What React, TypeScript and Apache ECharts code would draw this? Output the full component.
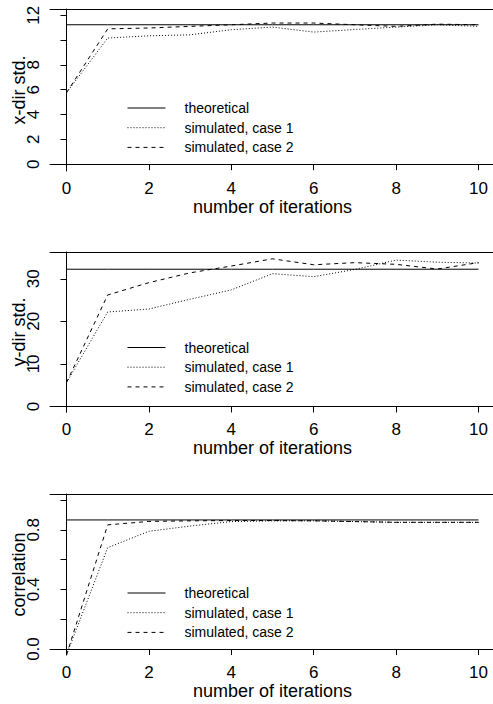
import React, { useEffect, useRef } from "react";
import * as echarts from "echarts";

const iterations = [0, 1, 2, 3, 4, 5, 6, 7, 8, 9, 10];

const xdirTheoretical = 11.23;
const xdirCase1 = [5.75, 10.16, 10.34, 10.42, 10.83, 11.04, 10.64, 10.85, 11.04, 11.23, 11.1];
const xdirCase2 = [5.75, 10.9, 10.97, 11.1, 11.23, 11.37, 11.37, 11.23, 11.1, 11.28, 11.23];

const ydirTheoretical = 32.25;
const ydirCase1 = [5.6, 22.2, 22.9, 25.2, 27.4, 31.2, 30.5, 32.2, 34.4, 33.9, 33.7];
const ydirCase2 = [5.6, 26.2, 29.1, 31.4, 33.0, 34.7, 33.3, 33.8, 33.4, 32.3, 33.8];

const corrTheoretical = 0.866;
const corrCase1 = [-0.04, 0.68, 0.79, 0.825, 0.855, 0.86, 0.86, 0.855, 0.85, 0.85, 0.85];
const corrCase2 = [-0.04, 0.833, 0.856, 0.86, 0.862, 0.862, 0.86, 0.855, 0.85, 0.85, 0.85];

const xTickValues = [0, 2, 4, 6, 8, 10];
const xdirTicks = [0, 2, 4, 6, 8, 10, 12];
const xdirLabels = [0, 2, 4, 6, 8, 12];
const ydirTicks = [0, 10, 20, 30];
const ydirLabels = [0, 10, 20, 30];
const corrTicks = [0, 0.2, 0.4, 0.6, 0.8, 1.0];
const corrLabels = [0, 0.4, 0.8];

const seriesNames = ["theoretical", "simulated, case 1", "simulated, case 2"];
const xAxisTitle = "number of iterations";
const yAxisTitles = ["x-dir std.", "y-dir std.", "correlation"];

const FONT = "'Liberation Sans', Arial, Helvetica, sans-serif";

export default function App() {
  const ref = useRef<HTMLDivElement>(null);

  useEffect(() => {
    if (!ref.current) return;
    const chart = echarts.init(ref.current, null, { renderer: "svg" });

    const panels = [
      { top: 9, height: 162, min: -0.55, max: 12.5, ticks: xdirTicks, labels: xdirLabels, fmt: (v: number) => String(v), theo: xdirTheoretical, c1: xdirCase1, c2: xdirCase2, legendTop: 101 },
      { top: 252, height: 160, min: -1.3, max: 36.3, ticks: ydirTicks, labels: ydirLabels, fmt: (v: number) => String(v), theo: ydirTheoretical, c1: ydirCase1, c2: ydirCase2, legendTop: 340.5 },
      { top: 494, height: 161, min: -0.04, max: 1.04, ticks: corrTicks, labels: corrLabels, fmt: (v: number) => v.toFixed(1), theo: corrTheoretical, c1: corrCase1, c2: corrCase2, legendTop: 586 },
    ];

    const grid: any[] = [];
    const xAxis: any[] = [];
    const yAxis: any[] = [];
    const series: any[] = [];
    const legend: any[] = [];
    const axisLine = { show: true, lineStyle: { color: "#000", width: 1 } };

    panels.forEach((p, i) => {
      grid.push({
        left: 50,
        width: 445,
        top: p.top,
        height: p.height,
        show: false,
        containLabel: false,
        outerBoundsMode: "none",
      });
      xAxis.push({
        type: "value",
        gridIndex: i,
        position: "bottom",
        min: -0.4,
        max: 10.4,
        name: xAxisTitle,
        nameLocation: "middle",
        nameGap: 26.5,
        nameMoveOverlap: false,
        nameTextStyle: { fontFamily: FONT, fontSize: 18, color: "#000" },
        axisLine,
        axisTick: { show: true, length: 6, customValues: xTickValues, lineStyle: { color: "#000", width: 1 } },
        axisLabel: { show: true, customValues: xTickValues, margin: 9, fontFamily: FONT, fontSize: 17, color: "#000" },
        splitLine: { show: false },
      });
      xAxis.push({
        type: "value",
        gridIndex: i,
        position: "top",
        min: -0.4,
        max: 10.4,
        axisLine,
        axisTick: { show: false },
        axisLabel: { show: false },
        splitLine: { show: false },
      });
      yAxis.push({
        type: "value",
        gridIndex: i,
        min: p.min,
        max: p.max,
        name: yAxisTitles[i],
        nameLocation: "middle",
        nameGap: 22,
        nameRotate: 90,
        nameMoveOverlap: false,
        nameTextStyle: { fontFamily: FONT, fontSize: 18, color: "#000" },
        axisLine,
        axisTick: { show: true, length: 6, customValues: p.ticks, lineStyle: { color: "#000", width: 1 } },
        axisLabel: { show: true, customValues: p.labels, rotate: 90, margin: 8, fontFamily: FONT, fontSize: 17, color: "#000", formatter: p.fmt },
        splitLine: { show: false },
      });
      const xi = i * 2;
      series.push(
        {
          type: "line",
          name: seriesNames[0],
          xAxisIndex: xi,
          yAxisIndex: i,
          data: iterations.map((it) => [it, p.theo]),
          symbol: "none",
          lineStyle: { color: "#000", width: 1, type: "solid" },
          itemStyle: { color: "#000" },
        },
        {
          type: "line",
          name: seriesNames[1],
          xAxisIndex: xi,
          yAxisIndex: i,
          data: iterations.map((it, k) => [it, p.c1[k]]),
          symbol: "none",
          lineStyle: { color: "#000", width: 1, type: [1, 2] },
          itemStyle: { color: "#000" },
        },
        {
          type: "line",
          name: seriesNames[2],
          xAxisIndex: xi,
          yAxisIndex: i,
          data: iterations.map((it, k) => [it, p.c2[k]]),
          symbol: "none",
          lineStyle: { color: "#000", width: 1, type: [4, 4] },
          itemStyle: { color: "#000" },
        }
      );
      legend.push({
        data: seriesNames,
        orient: "vertical",
        left: 127,
        top: p.legendTop,
        padding: 0,
        itemWidth: 38,
        itemHeight: 14,
        itemGap: 5.7,
        selectedMode: false,
        itemStyle: { opacity: 0, borderWidth: 0 },
        lineStyle: { width: 1 },
        textStyle: { fontFamily: FONT, fontSize: 14, color: "#000", padding: [0, 0, 0, 14] },
      });
    });

    chart.setOption({
      animation: false,
      backgroundColor: "#fff",
      grid,
      xAxis,
      yAxis,
      series,
      legend,
    });

    return () => chart.dispose();
  }, []);

  return (
    <div
      ref={ref}
      style={{ position: "fixed", left: 0, top: 0, width: 493, height: 704, background: "#fff" }}
    />
  );
}
